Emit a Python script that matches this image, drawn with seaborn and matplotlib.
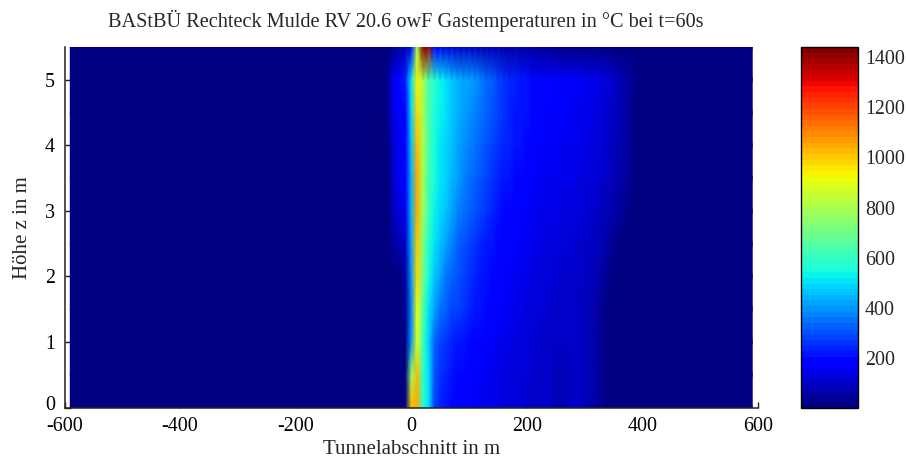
import numpy as np
import pandas as pd
import matplotlib
matplotlib.use("Agg")
import matplotlib.pyplot as plt
from matplotlib.transforms import ScaledTranslation
import seaborn as sns

title = "BAStBÜ Rechteck Mulde RV 20.6 owF Gastemperaturen in °C bei t=60s"
x_label = "Tunnelabschnitt in m"
y_label = "Höhe z in m"
x_ticks = [-600, -400, -200, 0, 200, 400, 600]
y_ticks = [0, 1, 2, 3, 4, 5]
cbar_ticks = [200, 400, 600, 800, 1000, 1200, 1400]
t_min, t_max = 4, 1440

# tunnel stations (m) and heights (m) of the temperature field
x_all = list(range(-590, 600, 10))
x_read = list(range(-40, 410, 10))
z_levels = [0, 0.5, 1, 1.5, 2, 2.5, 3, 3.5, 4, 4.5, 5, 5.5]

# temperatures (°C) read at x_read for each height
t00 = [5,5,5,5,1030,1050,580,510,280,240,220,205,195,185,180,170,160,150,145,140,135,130,125,120,115,110,105,100,95,90,85,90,95,95,90,80,60,30,10,5,5,5,5,5,5]
t05 = [5,5,5,10,750,1020,600,510,300,260,235,220,205,195,185,172,162,152,147,142,137,132,127,122,117,112,107,102,97,92,88,92,97,97,92,82,62,32,10,5,5,5,5,5,5]
t10 = [5,5,5,15,400,890,630,490,330,280,255,240,225,215,205,190,180,170,162,155,148,142,136,130,125,120,115,110,106,100,98,98,100,97,90,78,60,35,14,5,5,5,5,5,5]
t15 = [5,5,8,30,380,920,660,520,420,360,320,295,275,255,245,225,208,195,185,175,165,157,150,142,135,130,124,118,114,110,107,105,102,97,88,76,58,35,18,8,5,5,5,5,5]
t20 = [5,15,25,60,400,970,700,545,470,410,360,325,300,280,265,240,222,208,197,185,175,166,158,150,143,137,132,126,122,118,115,113,110,105,97,88,72,52,35,20,10,5,5,5,5]
t25 = [5,50,80,110,420,1010,740,575,510,465,420,375,340,315,290,265,245,228,215,202,190,178,170,162,155,148,142,137,132,128,125,123,120,115,108,100,88,72,55,40,25,15,8,5,5]
t30 = [15,100,130,155,440,1040,770,610,530,490,455,415,385,355,330,305,280,258,240,222,205,195,185,175,167,160,153,148,143,139,135,132,130,126,120,114,105,92,78,62,50,35,22,10,5]
t35 = [20,120,145,165,450,1045,790,630,545,510,480,445,415,385,360,335,310,285,265,245,228,212,200,190,180,172,165,160,155,150,147,145,142,138,132,125,118,108,95,80,68,52,38,20,5]
t40 = [22,125,150,175,470,1020,800,640,555,520,490,458,430,405,380,358,335,310,290,268,248,232,218,208,198,189,181,175,169,164,160,157,154,150,145,138,130,120,108,92,78,60,44,22,5]
t45 = [30,150,170,200,485,980,800,645,562,525,498,466,440,418,395,374,350,325,305,282,259,241,226,216,206,197,188,181,174,169,166,163,161,157,152,146,137,127,114,98,84,65,47,24,5]
t50 = [40,170,200,230,500,930,800,650,570,530,505,475,450,430,410,390,365,340,320,295,270,250,235,225,215,205,195,188,180,175,172,170,168,165,160,155,145,135,120,105,90,70,50,25,5]
t55 = [5,30,70,90,170,800,1430,1380,190,150,130,120,110,105,100,95,90,85,80,75,70,65,60,55,50,50,45,40,35,30,25,20,15,10,5,5,5,5,5,5,5,5,5,5,5]

rows = [t00, t05, t10, t15, t20, t25, t30, t35, t40, t45, t50, t55]
field = pd.DataFrame(t_min, index=z_levels, columns=x_all, dtype=float)
field.loc[z_levels, x_read] = np.array(rows, dtype=float)

W, H = 906, 459
sns.set_style("white")
plt.rcParams["font.family"] = ["Liberation Serif", "DejaVu Serif"]

fig = plt.figure(figsize=(W / 100, H / 100), dpi=100)
ax = fig.add_axes([64.5 / W, (H - 407.5) / H, (758 - 64.5) / W, 360.5 / H])
cax = fig.add_axes([801 / W, (H - 407.5) / H, 57 / W, 360.5 / H])

sns.heatmap(field, ax=ax, cbar_ax=cax, cmap=matplotlib.colormaps["jet"].resampled(64),
            vmin=t_min, vmax=t_max, xticklabels=False, yticklabels=False,
            cbar_kws={"ticks": cbar_ticks}, shading="gouraud")

# map real coordinates onto the heatmap's cell indices
to_col = lambda v: (v - x_all[0]) / 10
to_row = lambda v: v / 0.5
ax.set_xlim(to_col(-600), to_col(600))
ax.set_ylim(to_row(0), to_row(5.5))
ax.set_xticks([to_col(v) for v in x_ticks], [str(v) for v in x_ticks])
ax.set_yticks([to_row(v) for v in y_ticks], [str(v) for v in y_ticks])
ax.set_axisbelow(True)
ax.tick_params(axis="both", direction="in", length=4.5, width=1.0, color="#222222",
               labelsize=14.4, bottom=True, left=True, labelcolor="black")
ax.tick_params(axis="x", pad=7)
ax.tick_params(axis="y", pad=7)
# the "0" of the height axis sits a little above its tick
lab0 = ax.get_yticklabels()[0]
lab0.set_transform(lab0.get_transform() + ScaledTranslation(0, 3 / 72, fig.dpi_scale_trans))
for s in ("top", "right"):
    ax.spines[s].set_visible(False)
for s in ("left", "bottom"):
    ax.spines[s].set_visible(True)
    ax.spines[s].set_color("#222222")
    ax.spines[s].set_linewidth(1.1)

ax.set_xlabel(x_label, fontsize=15.0, labelpad=3)
ax.set_ylabel(y_label, fontsize=15.0, labelpad=9)
fig.text(406 / W, (H - 21) / H, title, ha="center", va="center", fontsize=14.6)

cbar = ax.collections[0].colorbar
cbar.outline.set_visible(True)
cbar.outline.set_edgecolor("black")
cbar.outline.set_linewidth(1.0)
cbar.ax.tick_params(direction="in", length=3, width=1.0, labelsize=14.4, pad=5, color="black")

fig.savefig("out.png", dpi=100)
